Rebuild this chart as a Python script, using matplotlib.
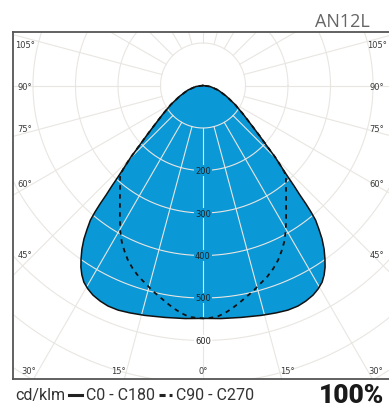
import matplotlib.pyplot as plt
from matplotlib.lines import Line2D
import numpy as np

# luminous intensity, cd/klm, by angle from nadir
gamma_c0 = [0, 4.4, 9.3, 14.2, 17.8, 20.7, 23.3, 25.5, 27.7, 29.5, 31.2, 32.6, 33.9, 35.1, 36.5,
            37.8, 38.9, 39.9, 40.5, 41.0, 41.5, 42.2, 42.9, 43.8, 45.2, 46.6, 48.5, 50.9, 54.5,
            59.3, 65.5, 73.3, 81.9, 90]
cd_c0 = [548, 550, 553, 558, 562, 565, 565, 562, 557, 550, 541, 529, 515, 499, 479,
         457, 434, 413, 391, 369, 344, 319, 294, 269, 239, 207, 176, 146, 116,
         88, 60, 37, 17, 0]

gamma_c90 = [0, 1.7, 3.5, 5.5, 7.4, 9.4, 11.5, 13.7, 16.0, 18.5, 20.9, 23.3, 25.4, 27.4, 29.6,
             31.9, 36.2, 42.8, 43.8, 45.2, 46.6, 48.5, 50.9, 54.5, 59.3, 65.5, 73.3, 81.9, 90]
cd_c90 = [548, 547, 545, 538, 529, 519, 508, 498, 486, 475, 462, 447, 431, 415, 394,
          370, 331, 287, 269, 239, 207, 176, 146, 116, 88, 60, 37, 17, 0]

rings = [100, 200, 300, 400, 500, 600, 700, 800, 900]
ring_labels = [200, 300, 400, 500, 600]
spokes = np.arange(0, 360, 15)

side_labels = ['105°', '90°', '75°', '60°', '45°']
side_label_y = [45, 87, 130, 185, 256]
bottom_labels = ['30°', '15°', '0°', '15°', '30°']
bottom_label_x = [29, 118, 203, 287, 376]

W, H = 389, 410
BLUE = '#0b98d6'
GRID = '#e9e6e2'


def px(x, y):
    return x / W, 1 - y / H


def outline(g, i):
    g = np.radians(np.asarray(g, dtype=float))
    i = np.asarray(i, dtype=float)
    x = np.concatenate([-i[::-1] * np.sin(g[::-1]), i * np.sin(g)])
    y = np.concatenate([-i[::-1] * np.cos(g[::-1]), -i * np.cos(g)])
    return x, y


fig = plt.figure(figsize=(W / 100, H / 100), dpi=100)
ax = fig.add_axes([13 / W, 30 / H, 376 / W, 347 / H])
ax.set_xlim(-447, 437.6)
ax.set_ylim(-690.6, 125.9)
ax.set_xticks([])
ax.set_yticks([])
for s in ['left', 'top', 'bottom']:
    ax.spines[s].set_color('#555555')
    ax.spines[s].set_linewidth(1.3)
ax.spines['right'].set_visible(False)

# filled C0-C180 curve
x0, y0 = outline(gamma_c0, cd_c0)
ax.fill(x0, y0, color=BLUE, zorder=1, lw=0)

# polar grid
t = np.linspace(0, 2 * np.pi, 400)
for r in rings:
    ax.plot(r * np.cos(t), r * np.sin(t), color=GRID, lw=0.8, zorder=2)
for a in spokes:
    a = np.radians(a)
    ax.plot([100 * np.sin(a), 1000 * np.sin(a)], [-100 * np.cos(a), -1000 * np.cos(a)],
            color=GRID, lw=0.8, zorder=2)

ax.plot(x0, y0, color='#111111', lw=1.1, zorder=3)
x9, y9 = outline(gamma_c90, cd_c90)
ax.plot(x9, y9, color='#111111', lw=1.3, ls=(0, (2.5, 2.5)), zorder=3)

for r in ring_labels:
    bg = BLUE if r < 548 else 'white'
    ax.text(0, -r, str(r), ha='center', va='center', fontsize=6, color='#222222', zorder=4,
            bbox=dict(boxstyle='square,pad=0.1', fc=bg, ec='none'))

for lab, y in zip(side_labels, side_label_y):
    fig.text(*px(25, y), lab, ha='center', va='center', fontsize=6, color='#3a3a3a')
    fig.text(*px(377, y), lab, ha='center', va='center', fontsize=6, color='#3a3a3a')
for lab, x in zip(bottom_labels, bottom_label_x):
    fig.text(*px(x, 372), lab, ha='center', va='center', fontsize=6, color='#3a3a3a')

fig.text(*px(370, 22), 'AN12L', ha='right', va='center', fontsize=13, color='#666666',
         family=['Open Sans', 'DejaVu Sans'])

# legend line under the frame, pieces placed one after another
renderer = fig.canvas.get_renderer()
cx = 15
ly = 1 - 396 / H
for kind, item in [('t', 'cd/klm'), ('l', '-'), ('t', 'C0 - C180'), ('l', '--'), ('t', 'C90 - C270')]:
    if kind == 't':
        tx = fig.text(cx / W, ly, item, ha='left', va='center', fontsize=11.5, color='#333333',
                      family=['Roboto', 'DejaVu Sans'])
        cx = tx.get_window_extent(renderer).x1 + 4
    else:
        ls = '-' if item == '-' else (0, (2.0, 1.3))
        fig.add_artist(Line2D([cx / W, (cx + 13) / W], [ly, ly], color='#222222', lw=2.2, ls=ls))
        cx += 17

fig.text(*px(384, 396), '100%', ha='right', va='center', fontsize=19, fontweight='black',
         color='#1a1a1a', family=['Roboto', 'DejaVu Sans'])

fig.savefig('out.png', dpi=100)
